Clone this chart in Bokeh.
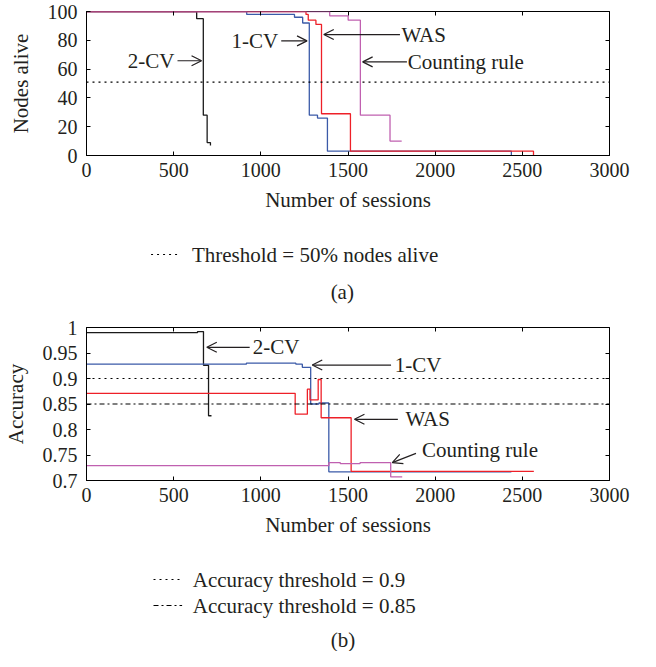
from bokeh.plotting import figure
from bokeh.models import (Range1d, FixedTicker, LinearAxis, Label, Arrow, OpenHead,
                          Span, CustomJSTickFormatter)
from bokeh.layouts import column
from bokeh.embed import file_html
from bokeh.resources import INLINE

# ---------------- data ----------------
x_ticks = [0, 500, 1000, 1500, 2000, 2500, 3000]
nodes_ticks = [0, 20, 40, 60, 80, 100]
acc_ticks = [0.7, 0.75, 0.8, 0.85, 0.9, 0.95, 1.0]

# (a) nodes alive vs sessions (step series: level starts at x)
cv2_nodes_x = [0, 632, 670, 692, 711]
cv2_nodes_y = [100, 95, 28, 9, 7]
cv1_nodes_x = [0, 919, 1193, 1240, 1278, 1325, 1382, 2437]
cv1_nodes_y = [100, 98, 96, 92, 28, 26, 3, 0]
was_nodes_x = [0, 1259, 1272, 1316, 1348, 1514, 2564]
was_nodes_y = [100, 98, 94, 91, 29, 3, 0]
cr_nodes_x = [0, 1395, 1501, 1571, 1741, 1808]
cr_nodes_y = [100, 97, 94, 28, 10, 10]
threshold_nodes = 51

# (b) accuracy vs sessions
cv2_acc_x = [0, 637, 671, 700, 717]
cv2_acc_y = [0.990, 0.992, 0.926, 0.827, 0.827]
cv1_acc_x = [0, 917, 1201, 1238, 1286, 1333, 1390, 2437]
cv1_acc_y = [0.928, 0.930, 0.928, 0.922, 0.850, 0.852, 0.717, 0.717]
was_acc_x = [0, 1197, 1267, 1282, 1329, 1346, 1518, 2566]
was_acc_y = [0.871, 0.830, 0.879, 0.858, 0.898, 0.823, 0.718, 0.718]
cr_acc_x = [0, 1390, 1456, 1569, 1745, 1811]
cr_acc_y = [0.729, 0.735, 0.733, 0.735, 0.707, 0.707]
threshold_acc_1 = 0.9
threshold_acc_2 = 0.85

# ---------------- style ----------------
FONT = "Liberation Serif"
TXT = "#231f20"
C_BLACK = "#1a1a1a"
C_BLUE = "#3b5aa8"
C_RED = "#ee2028"
C_MAG = "#c060b0"
LW = 1.3
DOT = "2 4"
DASHDOT = "5 3 2 3"


def style_axis(ax):
    ax.major_label_text_font = FONT
    ax.major_label_text_font_size = "20px"
    ax.major_label_text_color = TXT
    ax.axis_label_text_font = FONT
    ax.axis_label_text_font_size = "21px"
    ax.axis_label_text_font_style = "normal"
    ax.axis_label_text_color = TXT
    ax.major_tick_in = 4
    ax.major_tick_out = 0
    ax.minor_tick_line_color = None
    ax.axis_line_color = "black"
    ax.major_tick_line_color = "black"


def mirror_axis(ticks):
    return LinearAxis(ticker=FixedTicker(ticks=ticks),
                      major_label_text_color=None, major_label_text_font_size="0px",
                      major_label_standoff=0,
                      major_tick_in=4, major_tick_out=0, minor_tick_line_color=None,
                      axis_line_color=None, major_tick_line_color="black")


def make_plot(y_range, y_ticks, ylabel, border_left, border_right, border_top, frame_h, border_bottom):
    p = figure(width=640, height=border_top + frame_h + border_bottom,
               x_range=Range1d(0, 3000), y_range=y_range,
               output_backend="svg", toolbar_location=None,
               min_border_left=border_left, min_border_right=border_right,
               min_border_top=border_top, min_border_bottom=border_bottom)
    p.xgrid.visible = False
    p.ygrid.visible = False
    p.outline_line_color = "black"
    p.outline_line_width = 1
    p.xaxis.ticker = FixedTicker(ticks=x_ticks)
    p.yaxis.ticker = FixedTicker(ticks=y_ticks)
    p.xaxis.axis_label = "Number of sessions"
    p.yaxis.axis_label = ylabel
    for ax in p.xaxis + p.yaxis:
        style_axis(ax)
    p.xaxis.major_label_standoff = 7
    p.xaxis.axis_label_standoff = 8
    p.yaxis.major_label_standoff = 9
    p.yaxis.axis_label_standoff = 12
    p.add_layout(mirror_axis(x_ticks), "above")
    p.add_layout(mirror_axis(y_ticks), "right")
    return p


def annot(p, text, tx, ty, align, ax0, ay0, ax1, ay1):
    p.add_layout(Label(x=tx, y=ty, text=text, text_font=FONT, text_font_size="21px",
                       text_color=TXT, text_align=align, text_baseline="middle"))
    p.add_layout(Arrow(end=OpenHead(size=10, line_width=1.2, line_color=TXT),
                       x_start=ax0, y_start=ay0, x_end=ax1, y_end=ay1,
                       line_width=1.2, line_color=TXT))


# ---------------- (a) ----------------
p1 = make_plot(Range1d(0, 100), nodes_ticks, "Nodes alive", 80, 31, 11, 144, 60)
p1.add_layout(Span(location=threshold_nodes, dimension="width", line_color="black",
                   line_width=1.2, line_dash=DOT))
for xs, ys, c in [(cv2_nodes_x, cv2_nodes_y, C_BLACK), (cv1_nodes_x, cv1_nodes_y, C_BLUE),
                  (was_nodes_x, was_nodes_y, C_RED), (cr_nodes_x, cr_nodes_y, C_MAG)]:
    p1.step(xs, ys, mode="after", line_color=c, line_width=LW)

annot(p1, "2-CV", 505, 65.8, "right", 522, 65.8, 660, 65.8)
annot(p1, "1-CV", 1100, 79.6, "right", 1117, 79.6, 1265, 79.6)
annot(p1, "WAS", 1807, 84, "left", 1798, 84, 1361, 84)
annot(p1, "Counting rule", 1843, 65, "left", 1838, 65, 1584, 65)

# legend (a)
leg1 = figure(width=640, height=97, x_range=Range1d(0, 640), y_range=Range1d(97, 0),
              output_backend="svg", toolbar_location=None, min_border=0)
leg1.axis.visible = False
leg1.grid.visible = False
leg1.outline_line_color = None
leg1.line([79, 115], [39, 39], line_color="black", line_width=1.2, line_dash=DOT)
leg1.add_layout(Label(x=129, y=39, text="Threshold = 50% nodes alive", text_font=FONT,
                      text_font_size="21px", text_color=TXT, text_baseline="middle"))
leg1.add_layout(Label(x=313, y=76, text="(a)", text_font=FONT, text_font_size="21px",
                      text_color=TXT, text_align="center", text_baseline="middle"))

# ---------------- (b) ----------------
p2 = make_plot(Range1d(0.7, 1.0), acc_ticks, "Accuracy", 82, 29, 15, 153, 60)
p2.yaxis.formatter = CustomJSTickFormatter(code="return (Math.round(tick*100)/100).toString()")
p2.add_layout(Span(location=threshold_acc_1, dimension="width", line_color="black",
                   line_width=1.2, line_dash=DOT))
p2.add_layout(Span(location=threshold_acc_2, dimension="width", line_color="black",
                   line_width=1.2, line_dash=DASHDOT))
for xs, ys, c in [(cv2_acc_x, cv2_acc_y, C_BLACK), (cv1_acc_x, cv1_acc_y, C_BLUE),
                  (was_acc_x, was_acc_y, C_RED), (cr_acc_x, cr_acc_y, C_MAG)]:
    p2.step(xs, ys, mode="after", line_color=c, line_width=LW)

annot(p2, "2-CV", 953, 0.9612, "left", 936, 0.9612, 690, 0.9612)
annot(p2, "1-CV", 1768, 0.9264, "left", 1747, 0.9264, 1295, 0.9264)
annot(p2, "WAS", 1830, 0.820, "left", 1786, 0.820, 1537, 0.820)
annot(p2, "Counting rule", 1924, 0.759, "left", 1890, 0.7533, 1754, 0.735)

# legend (b)
leg2 = figure(width=640, height=111, x_range=Range1d(0, 640), y_range=Range1d(111, 0),
              output_backend="svg", toolbar_location=None, min_border=0)
leg2.axis.visible = False
leg2.grid.visible = False
leg2.outline_line_color = None
leg2.line([82, 117], [39, 39], line_color="black", line_width=1.2, line_dash=DOT)
leg2.line([82, 117], [65, 65], line_color="black", line_width=1.2, line_dash=DASHDOT)
leg2.add_layout(Label(x=130, y=39, text="Accuracy threshold = 0.9", text_font=FONT,
                      text_font_size="21px", text_color=TXT, text_baseline="middle"))
leg2.add_layout(Label(x=130, y=65, text="Accuracy threshold = 0.85", text_font=FONT,
                      text_font_size="21px", text_color=TXT, text_baseline="middle"))
leg2.add_layout(Label(x=314, y=99, text="(b)", text_font=FONT, text_font_size="21px",
                      text_color=TXT, text_align="center", text_baseline="middle"))

layout = column(p1, leg1, p2, leg2, spacing=0)
open("out.html", "w").write(file_html(layout, INLINE))
